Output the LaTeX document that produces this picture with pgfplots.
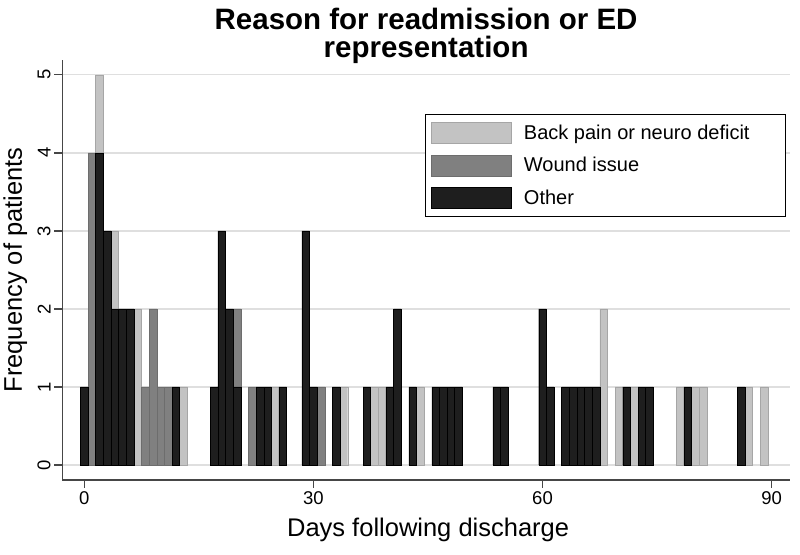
\documentclass[border=0pt]{standalone}
\usepackage{fontspec}
\setmainfont{Liberation Sans}
\usepackage{pgfplots}
\pgfplotsset{compat=1.18}
\definecolor{backc}{RGB}{195,195,195}
\definecolor{woundc}{RGB}{128,128,128}
\definecolor{otherc}{RGB}{30,30,30}
\definecolor{axc}{RGB}{70,70,70}

\begin{document}
\begin{tikzpicture}[x=1pt,y=1pt]
% page frame: 800 x 555, axis box from (62,480) to (790,60) in image pixels
\path (-62,-75) rectangle (738,480);
\begin{axis}[
  at={(0,0)}, anchor=south west,
  scale only axis, width=728pt, height=420pt,
  xmin=-2.88, xmax=92.4, ymin=-0.19, ymax=5.19,
  axis x line*=bottom, axis y line*=left,
  axis line style={axc, line width=1.3pt, -},
  tick align=outside, major tick length=8pt,
  tick style={axc, line width=1.3pt},
  xtick={0,30,60,90}, ytick={0,1,2,3,4,5},
  /pgf/number format/assume math mode=true,
  ymajorgrids, grid style={gray!25, line width=1.3pt},
  tick label style={font=\fontsize{18.5}{20}\selectfont},
  yticklabel style={rotate=90, anchor=south},
  legend style={at={(0.4986,0.872)}, anchor=north west, draw=black,
    line width=1pt, inner xsep=5pt, inner ysep=8pt, row sep=11pt,
    nodes={inner sep=1pt, font=\fontsize{20}{22}\selectfont},
    /tikz/every odd column/.append style={column sep=12pt}},
  legend cell align=left,
  legend image code/.code={\fill[#1] (0pt,-10.5pt) rectangle (80pt,10.5pt);},
]
\addplot[ybar, bar width=1, bar shift=0pt, fill=backc, draw=backc!85!black, line width=0.4pt]
  coordinates {(2,5)(4,3)(7,2)(13,1)(25,1)(34,1)(38,1)(39,1)(44,1)(68,2)(70,1)(72,1)(78,1)(80,1)(81,1)(87,1)(89,1)};
\addlegendentry{\makebox[256pt][l]{Back pain or neuro deficit}}
\addplot[ybar, bar width=1, bar shift=0pt, fill=woundc, draw=woundc!85!black, line width=0.4pt]
  coordinates {(1,4)(8,1)(9,2)(10,1)(11,1)(20,2)(22,1)(31,1)};
\addlegendentry{Wound issue}
\addplot[ybar, bar width=1, bar shift=0pt, fill=otherc, draw=black, line width=0.4pt]
  coordinates {(0,1)(2,4)(3,3)(4,2)(5,2)(6,2)(12,1)(17,1)(18,3)(19,2)(20,1)(23,1)(24,1)(26,1)
    (29,3)(30,1)(33,1)(37,1)(40,1)(41,2)(43,1)(46,1)(47,1)(48,1)(49,1)(54,1)(55,1)
    (60,2)(61,1)(63,1)(64,1)(65,1)(66,1)(67,1)(71,1)(73,1)(74,1)(79,1)(86,1)};
\addlegendentry{Other}
\end{axis}
\node[font=\bfseries\fontsize{29.5}{28}\selectfont, align=center] at (364,444)
  {Reason for readmission or ED\\representation};
\node[font=\fontsize{25.5}{27}\selectfont] at (366,-50) {Days following discharge};
\node[font=\fontsize{25.5}{27}\selectfont, rotate=90] at (-47,210) {Frequency of patients};
\end{tikzpicture}
\end{document}
